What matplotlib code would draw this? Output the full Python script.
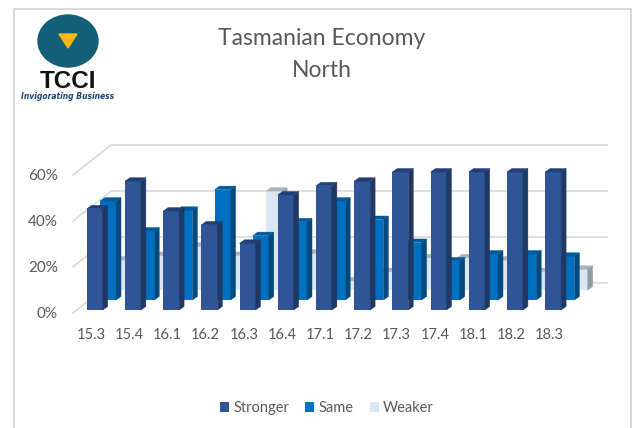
import matplotlib
matplotlib.use("Agg")
import matplotlib.pyplot as plt
from matplotlib.patches import Ellipse, Polygon
import numpy as np

# values
quarters = ["15.3", "15.4", "16.1", "16.2", "16.3", "16.4", "17.1",
            "17.2", "17.3", "17.4", "18.1", "18.2", "18.3"]
stronger = [44, 56, 43, 37, 29, 50, 54, 56, 60, 60, 60, 60, 60]
same = [43, 30, 39, 48, 28, 34, 43, 35, 25, 17, 20, 20, 19]
weaker = [13, 15, 19, 15, 43, 16, 4, 8, 14, 14, 13, 8, 9]
y_ticks = [0, 20, 40, 60]

W, H = 637, 428
PX_X = 38.2  # pixels per category
PX_Y = 2.3   # pixels per percent
GREY = "#595959"

plt.rcParams["font.family"] = ["Lato", "DejaVu Sans"]

fig = plt.figure(figsize=(W / 100, H / 100), dpi=100)
bg = fig.add_axes([0, 0, 1, 1])
bg.set_xlim(0, W)
bg.set_ylim(H, 0)
bg.axis("off")

# outer frame of the screenshot
bg.plot([14, 14, 631, 631], [H, 8.5, 8.5, H], color="#d9d9d9", lw=1.4)

# logo
bg.add_patch(Ellipse((68, 41), 60, 52, color="#135f78"))
bg.add_patch(Polygon([(59, 34), (77, 34), (68, 48)], color="#fdb913"))
bg.text(68, 81, "TCCI", ha="center", va="center", fontsize=17.5,
        fontweight="bold", color="#111111", family="Liberation Sans")
bg.text(68, 96, "Invigorating Business", ha="center", va="center", fontsize=5.5,
        fontweight="bold", style="italic", color="#1b4478", family="DejaVu Sans")

# title
bg.text(322, 38, "Tasmanian Economy", ha="center", va="center", fontsize=16.5, color=GREY)
bg.text(322, 70, "North", ha="center", va="center", fontsize=16.5, color=GREY)

# chart axes: 0% at px 313, 60% at px 175
x0, x1, y0, y1 = 73, 607, 313, 145
ax = fig.add_axes([x0 / W, 1 - y0 / H, (x1 - x0) / W, (y0 - y1) / H])
ax.patch.set_visible(False)
ax.set_xlim((x0 - 91) / PX_X, (x1 - 91) / PX_X)
ax.set_ylim(0, (y0 - y1) / PX_Y)
for s in ax.spines.values():
    s.set_visible(False)

# walls: gridlines run back along the left wall, then across the back wall
wall_dx = 38 / PX_X
wall_dy = 30 / PX_Y
left = ax.get_xlim()[0]
right = ax.get_xlim()[1]
for t in y_ticks:
    ax.plot([left, left + wall_dx, right], [t, t + wall_dy, t + wall_dy],
            color="#d9d9d9", lw=1.2, zorder=1, clip_on=False)

series = [
    ("Weaker", weaker, "#dce6f2", "#8f9ea6", "#a7b4bb", 2),
    ("Same", same, "#0070c0", "#004a80", "#005a9c", 1),
    ("Stronger", stronger, "#2f5597", "#203864", "#223f75", 0),
]

bar_w = 16 / PX_X
side_dx = 5 / PX_X
side_dy = 3.5 / PX_Y
handles = {}
for name, vals, front, side, top, depth in series:
    z = 10 - depth
    lefts = np.arange(len(vals)) - 4.3 / PX_X + depth * 13.3 / PX_X
    base = (3 + depth * 10) / PX_Y
    bars = ax.bar(lefts, vals, width=bar_w, bottom=base, align="edge",
                  color=front, zorder=z, label=name, clip_on=False)
    handles[name] = bars
    for xl, v in zip(lefts, vals):
        xr = xl + bar_w
        yt = base + v
        ax.add_patch(Polygon([(xr, base), (xr + side_dx, base + side_dy),
                              (xr + side_dx, yt + side_dy), (xr, yt)],
                             facecolor=side, edgecolor=side, zorder=z, lw=0.3, clip_on=False))
        ax.add_patch(Polygon([(xl, yt), (xr, yt), (xr + side_dx, yt + side_dy),
                              (xl + side_dx, yt + side_dy)],
                             facecolor=top, edgecolor=top, zorder=z, lw=0.3, clip_on=False))

ax.set_xticks(np.arange(len(quarters)), quarters)
ax.set_yticks(y_ticks, [f"{t}%" for t in y_ticks])
ax.tick_params(axis="both", length=0, colors=GREY, labelsize=10.5)
ax.tick_params(axis="x", pad=11)
ax.tick_params(axis="y", pad=11, labelsize=11)

leg = fig.legend([handles[k] for k in ["Stronger", "Same", "Weaker"]],
                 ["Stronger", "Same", "Weaker"], ncols=3, frameon=False,
                 loc="center", bbox_to_anchor=(327 / W, 1 - 408 / H),
                 fontsize=10.5, labelcolor=GREY, handlelength=0.62, handleheight=0.62,
                 handletextpad=0.3, columnspacing=1.1)

fig.savefig("out.png", dpi=100)
plt.close(fig)
